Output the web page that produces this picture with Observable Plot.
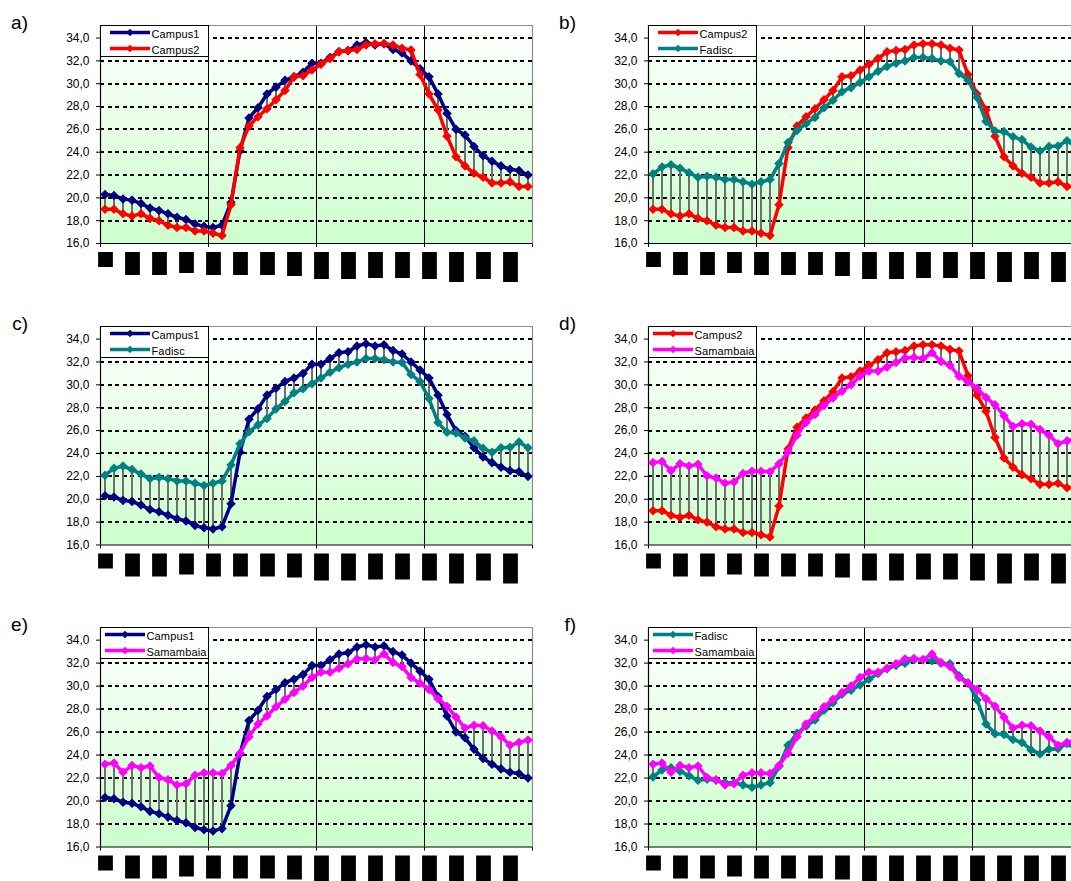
<!DOCTYPE html>
<html>
<head>
<meta charset="utf-8">
<script src="https://cdn.jsdelivr.net/npm/d3@7"></script>
<script src="https://cdn.jsdelivr.net/npm/@observablehq/plot@0.6"></script>
<style>
  html, body { margin: 0; padding: 0; background: #fff; }
  body { position: relative; width: 1071px; height: 881px; overflow: hidden; font-family: "Liberation Sans", Arial, sans-serif; color: #000; }
  .panel { position: absolute; }
  .panel svg { max-width: none !important; }
  .plabel { position: absolute; width: 40px; text-align: right; font-size: 19px; line-height: 19px; }
  .legend { position: absolute; background: #fff; border: 1px solid #000; box-sizing: border-box; }
</style>
</head>
<body>
<svg width="0" height="0" style="position:absolute">
  <defs>
    <linearGradient id="bg" x1="0" y1="0" x2="0" y2="1">
      <stop offset="0" stop-color="#ffffff"/>
      <stop offset="1" stop-color="#ccffcc"/>
    </linearGradient>
  </defs>
</svg>
<script>
// ---- data (48 time steps, 4 stations) ----
const campus1 = [20.3, 20.2, 19.9, 19.8, 19.5, 19.1, 18.9, 18.6, 18.3, 18.1, 17.7, 17.5,
                 17.4, 17.6, 19.6, 24.1, 27.0, 27.9, 29.1, 29.7, 30.3, 30.6, 31.0, 31.8,
                 31.8, 32.3, 32.8, 32.9, 33.4, 33.6, 33.4, 33.5, 33.0, 32.7, 32.0, 31.3,
                 30.6, 29.1, 27.4, 26.0, 25.5, 24.5, 23.7, 23.2, 22.8, 22.5, 22.4, 22.0];
const campus2 = [19.0, 19.0, 18.6, 18.4, 18.6, 18.2, 18.0, 17.6, 17.4, 17.4, 17.1, 17.1,
                 16.9, 16.7, 19.4, 24.4, 26.3, 27.1, 27.8, 28.6, 29.4, 30.6, 30.7, 31.2,
                 31.7, 32.2, 32.8, 32.9, 33.0, 33.4, 33.5, 33.5, 33.4, 33.1, 32.95, 30.8,
                 29.1, 27.7, 25.4, 23.6, 22.8, 22.15, 21.8, 21.3, 21.3, 21.4, 21.0, 21.0];
const fadisc = [22.1, 22.7, 22.9, 22.6, 22.2, 21.8, 21.9, 21.8, 21.6, 21.6, 21.4, 21.2,
                21.4, 21.6, 23.0, 24.85, 25.9, 26.5, 27.05, 27.9, 28.55, 29.3, 29.65, 30.1,
                30.6, 31.1, 31.5, 31.8, 32.0, 32.3, 32.3, 32.2, 32.0, 31.95, 30.9, 30.3,
                28.8, 26.7, 25.85, 25.8, 25.35, 25.1, 24.45, 24.1, 24.5, 24.55, 25.0, 24.5];
const samambaia = [23.2, 23.3, 22.5, 23.1, 22.9, 23.05, 22.05, 21.85, 21.4, 21.5, 22.25, 22.45,
                   22.45, 22.4, 23.1, 24.15, 25.6, 26.7, 27.4, 28.2, 28.85, 29.45, 30.0, 30.75,
                   31.2, 31.2, 31.55, 31.95, 32.35, 32.4, 32.3, 32.8, 32.05, 31.7, 30.75, 30.25,
                   29.7, 28.9, 28.25, 27.3, 26.35, 26.6, 26.55, 26.1, 25.6, 24.85, 25.1, 25.3];

const seriesNames = ["Campus1", "Campus2", "Fadisc", "Samambaia"];
const seriesValues = {Campus1: campus1, Campus2: campus2, Fadisc: fadisc, Samambaia: samambaia};
const seriesColors = {Campus1: "#000080", Campus2: "#ff0000", Fadisc: "#008080", Samambaia: "#ff00ff"};

const panelLabels = ["a)", "b)", "c)", "d)", "e)", "f)"];
const panelPairs = [["Campus1", "Campus2"], ["Campus2", "Fadisc"], ["Campus1", "Fadisc"],
                    ["Campus2", "Samambaia"], ["Campus1", "Samambaia"], ["Fadisc", "Samambaia"]];

const yTicks = [16, 18, 20, 22, 24, 26, 28, 30, 32, 34];
const gridTicks = [18, 20, 22, 24, 26, 28, 30, 32, 34];
const sectionBounds = [0, 12, 24, 36, 48];
// hidden (blacked-out) x tick labels every 3rd step: their lengths in px
const hiddenLabelLen = [15, 23, 23, 21, 23, 23, 23, 24, 27, 27, 26, 26, 27, 30, 27, 30];

// ---- layout ----
const Y_MIN = 16, Y_MAX = 35.1;
const N = 48;
const frameW = 432;
const colLeft = [0, 548];
const rowTop = [0, 301, 602];
const frameH = [218, 218.5, 219.5];
const mTop = 25, mLeft = 100, mRight = 10, mBottom = 46;

const fmt = d => d.toFixed(1).replace(".", ",");

function makeLegend(names, left, top) {
  const w = 109, h = 32;
  const compact = names.includes("Samambaia");
  const lx1 = compact ? 4 : 9, lx2 = compact ? 44 : 49, tx = compact ? 45.5 : 50.5;
  const ns = "http://www.w3.org/2000/svg";
  const div = document.createElement("div");
  div.className = "legend";
  div.style.left = left + "px";
  div.style.top = top + "px";
  div.style.width = w + "px";
  div.style.height = h + "px";
  const svg = document.createElementNS(ns, "svg");
  svg.setAttribute("width", w - 2);
  svg.setAttribute("height", h - 2);
  svg.style.position = "absolute";
  svg.style.left = "0px";
  svg.style.top = "0px";
  names.forEach((n, k) => {
    const yl = 6.5 + k * 16;
    const line = document.createElementNS(ns, "line");
    line.setAttribute("x1", lx1); line.setAttribute("x2", lx2);
    line.setAttribute("y1", yl); line.setAttribute("y2", yl);
    line.setAttribute("stroke", seriesColors[n]); line.setAttribute("stroke-width", 3.5);
    svg.appendChild(line);
    const dm = document.createElementNS(ns, "path");
    const r = 3.8, cx = (lx1 + lx2) / 2;
    dm.setAttribute("d", `M${cx},${yl - r}L${cx + r},${yl}L${cx},${yl + r}L${cx - r},${yl}Z`);
    dm.setAttribute("fill", seriesColors[n]);
    svg.appendChild(dm);
    const t = document.createElementNS(ns, "text");
    t.setAttribute("x", tx); t.setAttribute("y", yl + 5.3);
    t.setAttribute("font-size", "11px");
    t.setAttribute("letter-spacing", "0.15px");
    t.setAttribute("font-family", "Liberation Sans, Arial, sans-serif");
    t.setAttribute("fill", "#000");
    t.textContent = n;
    svg.appendChild(t);
  });
  div.appendChild(svg);
  return div;
}

panelPairs.forEach((pair, p) => {
  const col = p % 2, row = Math.floor(p / 2);
  const fh = frameH[row];
  const pxPerUnit = fh / (Y_MAX - Y_MIN);
  const [sa, sb] = pair;
  const A = seriesValues[sa], B = seriesValues[sb];
  const rows = d3.range(N).map(i => ({t: i + 0.5, a: A[i], b: B[i]}));
  const boxes = hiddenLabelLen.map((len, k) => ({
    x1: 3 * k - 0.21, x2: 3 * k + 1.43,
    y1: Y_MIN - 9 / pxPerUnit, y2: Y_MIN - (9 + len) / pxPerUnit
  }));

  const W = mLeft + frameW + mRight, H = mTop + fh + mBottom;
  const chart = Plot.plot({
    width: W,
    height: H,
    marginLeft: mLeft, marginRight: mRight, marginTop: mTop, marginBottom: mBottom,
    style: {background: "transparent", color: "#000", fontFamily: "Liberation Sans, Arial, sans-serif", fontSize: "12px", overflow: "visible"},
    x: {domain: [0, N], ticks: sectionBounds, tickSize: 4, tickFormat: () => "", label: null},
    y: {domain: [Y_MIN, Y_MAX], ticks: yTicks, tickSize: 4, tickPadding: 7, tickFormat: fmt, label: null},
    marks: [
      Plot.frame({fill: "url(#bg)", stroke: "none"}),
      Plot.ruleY(gridTicks, {stroke: "#000", strokeWidth: 2, strokeDasharray: "4,3.5", shapeRendering: "crispEdges"}),
      Plot.ruleX(sectionBounds.slice(1, 4), {stroke: "#000", strokeWidth: 1}),
      Plot.ruleY([Y_MAX], {stroke: "#8c8c8c", strokeWidth: 1.2}),
      Plot.ruleX([N], {stroke: "#8c8c8c", strokeWidth: 1.2}),
      Plot.ruleX([0], {stroke: "#000", strokeWidth: 1.2}),
      Plot.ruleY([Y_MIN], {stroke: "#000", strokeWidth: 1.2}),
      Plot.ruleX(rows, {x: "t", y1: "a", y2: "b", stroke: "#707070", strokeWidth: 2}),
      Plot.line(rows, {x: "t", y: "a", stroke: seriesColors[sa], strokeWidth: 3.5}),
      Plot.dot(rows, {x: "t", y: "a", symbol: "diamond2", r: 4.3, fill: seriesColors[sa], stroke: "none"}),
      Plot.line(rows, {x: "t", y: "b", stroke: seriesColors[sb], strokeWidth: 3.5}),
      Plot.dot(rows, {x: "t", y: "b", symbol: "diamond2", r: 4.3, fill: seriesColors[sb], stroke: "none"}),
      Plot.rect(boxes, {x1: "x1", x2: "x2", y1: "y1", y2: "y2", fill: "#000"})
    ]
  });
  chart.style.maxWidth = "none";
  chart.style.width = W + "px";
  chart.style.height = H + "px";
  const wrap = document.createElement("div");
  wrap.className = "panel";
  wrap.style.left = colLeft[col] + "px";
  wrap.style.top = rowTop[row] + "px";
  wrap.style.width = W + "px";
  wrap.style.height = H + "px";
  wrap.appendChild(chart);
  document.body.appendChild(wrap);

  document.body.appendChild(makeLegend(pair, colLeft[col] + mLeft, rowTop[row] + mTop));

  const lab = document.createElement("div");
  lab.className = "plabel";
  lab.textContent = panelLabels[p];
  lab.style.left = (colLeft[col] + 28 - 40) + "px";
  lab.style.top = (rowTop[row] + 13) + "px";
  document.body.appendChild(lab);
});
</script>
</body>
</html>
